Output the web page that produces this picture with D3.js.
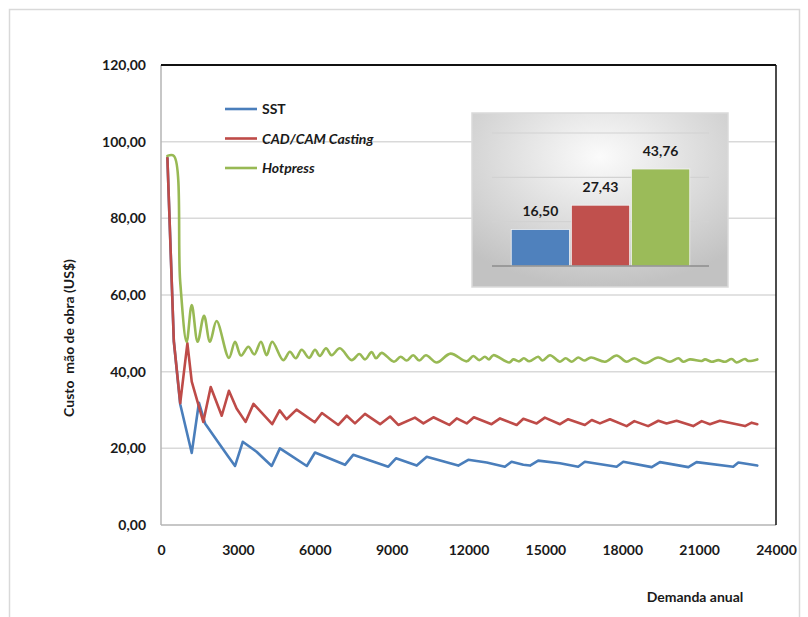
<!DOCTYPE html>
<html>
<head>
<meta charset="utf-8">
<script src="https://cdn.jsdelivr.net/npm/d3@7"></script>
<style>
  html, body { margin: 0; padding: 0; background: #fff; }
  svg { display: block; }
  text { font-family: Lato, "Open Sans", sans-serif; font-weight: 700; fill: #1a1a1a; }
</style>
</head>
<body>
<svg id="chart" width="808" height="617"></svg>
<script>
// Labour cost per unit (US$) against annual demand, for three production processes
const demandTicks = [0, 3000, 6000, 9000, 12000, 15000, 18000, 21000, 24000];
const costTicks = [0, 20, 40, 60, 80, 100, 120];

const seriesNames = ["SST", "CAD/CAM Casting", "Hotpress"];
const seriesColors = ["#4a7ebb", "#be4b48", "#98b954"];

const sstDemand = [250, 500, 750, 1200, 1480, 1720, 2170, 2630, 2890, 3190, 3730, 4320, 4640, 5030, 5690, 6010, 7180, 7500, 8870, 9170, 9980, 10370, 11600, 11990, 12710, 13420, 13680, 14140, 14400, 14720, 15570, 16280, 16540, 17780, 18040, 19150, 19470, 20580, 20900, 22330, 22530, 23270];
const sstCost = [95.7, 48.0, 31.5, 18.8, 31.9, 26.5, 22.2, 17.8, 15.4, 21.7, 19.1, 15.4, 20.0, 18.3, 15.4, 18.9, 15.7, 18.3, 15.2, 17.4, 15.5, 17.8, 15.5, 17.0, 16.3, 15.2, 16.5, 15.7, 15.5, 16.8, 16.1, 15.2, 16.5, 15.2, 16.5, 15.1, 16.4, 15.1, 16.4, 15.2, 16.3, 15.5];

const castingDemand = [250, 500, 750, 1030, 1200, 1650, 1940, 2370, 2650, 2950, 3300, 3610, 4340, 4630, 4900, 5290, 6000, 6280, 6920, 7250, 7570, 7960, 8550, 8940, 9260, 9910, 10240, 10630, 11250, 11540, 11930, 12210, 12900, 13230, 13880, 14140, 14660, 14980, 15570, 15890, 16540, 16810, 17130, 17520, 18170, 18470, 19010, 19410, 19730, 20120, 20770, 21100, 21420, 21810, 22790, 23050, 23270];
const castingCost = [95.7, 48.0, 31.8, 47.4, 37.4, 26.9, 36.0, 28.5, 35.0, 30.4, 26.9, 31.6, 26.3, 29.9, 27.6, 30.1, 26.8, 29.2, 26.1, 28.5, 26.5, 29.0, 26.3, 28.3, 26.1, 28.0, 26.5, 28.1, 26.1, 27.8, 26.5, 28.1, 26.3, 27.8, 26.1, 27.7, 26.5, 28.0, 26.3, 27.6, 26.1, 27.4, 26.5, 27.6, 25.8, 27.1, 25.8, 27.2, 26.5, 27.2, 25.8, 27.1, 26.3, 27.2, 25.8, 26.7, 26.3];

const hotpressDemand = [250, 500, 750, 1000, 1200, 1430, 1680, 1910, 2170, 2650, 2890, 3120, 3410, 3640, 3900, 4120, 4340, 4770, 5030, 5260, 5490, 5780, 6010, 6200, 6440, 6660, 6980, 7440, 7740, 7960, 8220, 8390, 8610, 9090, 9350, 9590, 9840, 10080, 10340, 10760, 11300, 11930, 12190, 12420, 12640, 12800, 12970, 13590, 13750, 13980, 14160, 14370, 14720, 14890, 15180, 15570, 15790, 16030, 16280, 16520, 16780, 17330, 17780, 18170, 18470, 18890, 19400, 19860, 20190, 20380, 20640, 21100, 21230, 21490, 21750, 22010, 22270, 22460, 22790, 22920, 23270];
const hotpressCost = [96.3, 96.3, 63.4, 47.8, 57.4, 47.8, 54.6, 47.8, 53.2, 43.6, 47.8, 44.2, 46.5, 44.5, 47.8, 44.3, 47.8, 43.0, 45.2, 43.5, 45.7, 43.6, 45.7, 44.1, 46.1, 44.3, 46.1, 43.0, 44.6, 43.2, 45.1, 43.5, 44.9, 42.6, 43.9, 42.9, 44.3, 42.9, 44.3, 42.4, 44.7, 42.7, 44.1, 43.0, 43.9, 43.2, 44.3, 42.4, 43.2, 42.7, 43.5, 42.7, 43.9, 42.9, 44.3, 42.6, 43.5, 42.6, 43.7, 42.9, 43.7, 42.6, 44.2, 42.6, 43.5, 42.2, 43.7, 42.6, 43.5, 42.6, 43.2, 42.8, 43.2, 42.6, 43.0, 42.6, 43.3, 42.4, 43.3, 42.8, 43.2];

// Average cost per process, shown in the inset
const averageCost = [16.50, 27.43, 43.76];
const insetTicks = [0, 20, 40, 60];

const locale = d3.formatLocale({ decimal: ",", thousands: ".", grouping: [3], currency: ["US$", ""] });
const fmt2 = locale.format(".2f");

const svg = d3.select("#chart");

// outer frame
svg.append("rect")
  .attr("x", 9.5).attr("y", 9.5).attr("width", 790).attr("height", 640)
  .attr("fill", "none").attr("stroke", "#d9d9d9").attr("stroke-width", 1.5);

const plot = { left: 161, right: 776, top: 65, bottom: 525 };
const x = d3.scaleLinear().domain([0, 24000]).range([plot.left, plot.right]);
const y = d3.scaleLinear().domain([0, 120]).range([plot.bottom, plot.top]);

// horizontal gridlines
svg.append("g").selectAll("line")
  .data(costTicks.filter(t => t > 0 && t < 120))
  .join("line")
  .attr("x1", plot.left).attr("x2", plot.right)
  .attr("y1", d => y(d)).attr("y2", d => y(d))
  .attr("stroke", "#d9d9d9").attr("stroke-width", 1.5);

// frame: grey left/bottom axes, dark top/right edges
svg.append("line").attr("x1", plot.left).attr("x2", plot.left).attr("y1", plot.top).attr("y2", plot.bottom)
  .attr("stroke", "#b5b5b5").attr("stroke-width", 1.5);
svg.append("line").attr("x1", plot.left).attr("x2", plot.right).attr("y1", plot.bottom).attr("y2", plot.bottom)
  .attr("stroke", "#b5b5b5").attr("stroke-width", 1.5);
svg.append("line").attr("x1", plot.left).attr("x2", plot.right).attr("y1", plot.top).attr("y2", plot.top)
  .attr("stroke", "#111").attr("stroke-width", 1.8);
svg.append("line").attr("x1", plot.right).attr("x2", plot.right).attr("y1", plot.top).attr("y2", plot.bottom)
  .attr("stroke", "#111").attr("stroke-width", 1.5);

// y axis labels
const yAxis = d3.axisLeft(y).tickValues(costTicks).tickFormat(fmt2).tickSize(0).tickPadding(15);
const gy = svg.append("g").attr("transform", `translate(${plot.left},0)`).call(yAxis);
gy.select(".domain").remove();
gy.selectAll("text").attr("font-size", 14).attr("font-family", "Lato").attr("font-weight", 700).attr("fill", "#1a1a1a");

// x axis labels
const xAxis = d3.axisBottom(x).tickValues(demandTicks).tickFormat(d3.format("d")).tickSize(0).tickPadding(20);
const gx = svg.append("g").attr("transform", `translate(0,${plot.bottom})`).call(xAxis);
gx.select(".domain").remove();
gx.selectAll("text").attr("font-size", 14).attr("font-family", "Lato").attr("font-weight", 700).attr("fill", "#1a1a1a");

// axis titles
svg.append("text")
  .attr("transform", "translate(74,338) rotate(-90)")
  .attr("text-anchor", "middle").attr("font-size", 14)
  .style("white-space", "pre")
  .text("Custo  mão de obra (US$)");
svg.append("text")
  .attr("x", 695).attr("y", 602)
  .attr("text-anchor", "middle").attr("font-size", 14)
  .text("Demanda anual");

// lines: sawtooth series kept angular, Hotpress smoothed
const series = [
  { demand: sstDemand, cost: sstCost, curve: d3.curveLinear },
  { demand: castingDemand, cost: castingCost, curve: d3.curveLinear },
  { demand: hotpressDemand, cost: hotpressCost, curve: d3.curveCatmullRom.alpha(0.5) }
];
series.forEach((s, i) => {
  const line = d3.line().x(d => x(d[0])).y(d => y(d[1])).curve(s.curve);
  const pts = s.demand.map((d, j) => [d, s.cost[j]]);
  svg.append("path")
    .datum(pts)
    .attr("d", line)
    .attr("fill", "none")
    .attr("stroke", seriesColors[i])
    .attr("stroke-width", 2.6)
    .attr("stroke-linejoin", "round")
    .attr("stroke-linecap", "round");
});

// legend
const legend = svg.append("g");
seriesNames.forEach((name, i) => {
  const ly = 109 + i * 29.5;
  legend.append("line")
    .attr("x1", 225).attr("x2", 257).attr("y1", ly).attr("y2", ly)
    .attr("stroke", seriesColors[i]).attr("stroke-width", 2.6);
  legend.append("text")
    .attr("x", 262).attr("y", ly + 5)
    .attr("font-size", 14)
    .attr("font-style", i === 0 ? "normal" : "italic")
    .text(name);
});

// inset bar chart of average cost
const inset = { left: 472, top: 113, width: 256, height: 174 };
const defs = svg.append("defs");
const grad = defs.append("radialGradient").attr("id", "insetBg")
  .attr("cx", "50%").attr("cy", "25%").attr("r", "75%");
grad.append("stop").attr("offset", "0%").attr("stop-color", "#fbfbfb");
grad.append("stop").attr("offset", "100%").attr("stop-color", "#c2c2c2");

svg.append("rect")
  .attr("x", inset.left).attr("y", inset.top)
  .attr("width", inset.width).attr("height", inset.height)
  .attr("fill", "url(#insetBg)")
  .attr("stroke", "#dadada").attr("stroke-width", 1.5);

const ix = d3.scaleBand().domain(seriesNames).range([492, 709]).paddingInner(0.03).paddingOuter(0.32);
const iy = d3.scaleLinear().domain([0, 60]).range([266, 133]);

svg.append("g").selectAll("line")
  .data(insetTicks.filter(t => t > 0))
  .join("line")
  .attr("x1", 492).attr("x2", 709)
  .attr("y1", d => iy(d)).attr("y2", d => iy(d))
  .attr("stroke", "#d2d2d2").attr("stroke-width", 1.2);

svg.append("g").selectAll("rect")
  .data(averageCost)
  .join("rect")
  .attr("x", (d, i) => ix(seriesNames[i]))
  .attr("width", ix.bandwidth())
  .attr("y", d => iy(d))
  .attr("height", d => iy(0) - iy(d))
  .attr("fill", (d, i) => ["#4f81bd", "#c0504d", "#9bbb59"][i])
  .attr("stroke", "#f2f2f2").attr("stroke-width", 0.8);

svg.append("line")
  .attr("x1", 492).attr("x2", 709).attr("y1", iy(0)).attr("y2", iy(0))
  .attr("stroke", "#8c8c8c").attr("stroke-width", 1.5);

svg.append("g").selectAll("text")
  .data(averageCost)
  .join("text")
  .attr("x", (d, i) => ix(seriesNames[i]) + ix.bandwidth() / 2)
  .attr("y", d => iy(d) - 13)
  .attr("text-anchor", "middle")
  .attr("font-size", 14)
  .text(d => fmt2(d));
</script>
</body>
</html>
